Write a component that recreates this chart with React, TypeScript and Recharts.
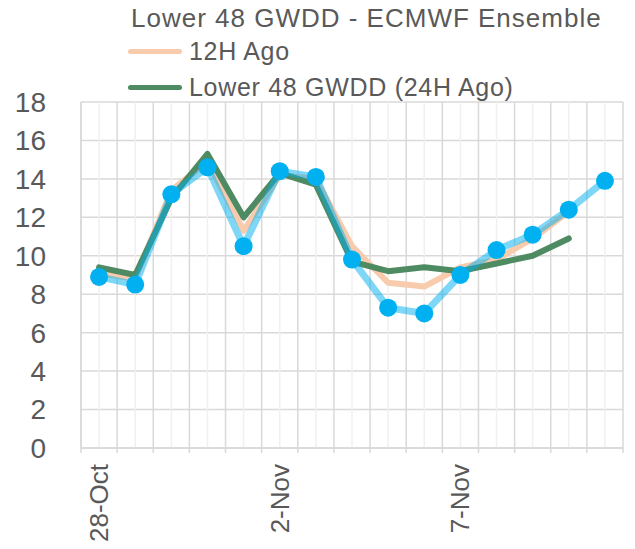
import React from 'react';
import { LineChart, Line, XAxis, YAxis, CartesianGrid, ReferenceLine, Legend } from 'recharts';

// Forecast dates (one per day)
const dates = [
  '28-Oct', '29-Oct', '30-Oct', '31-Oct', '1-Nov', '2-Nov', '3-Nov', '4-Nov',
  '5-Nov', '6-Nov', '7-Nov', '8-Nov', '9-Nov', '10-Nov', '11-Nov',
];
// Lower 48 GWDD - latest ECMWF ensemble run
const ensemble = [8.9, 8.5, 13.2, 14.6, 10.5, 14.4, 14.1, 9.8, 7.3, 7.0, 9.0, 10.3, 11.1, 12.4, 13.9];
// previous runs
const ago12H = [9.1, 8.8, 13.4, 14.9, 11.3, 14.2, 14.0, 10.5, 8.6, 8.4, 9.4, 9.8, 10.9, 12.3, null];
const ago24H = [9.4, 9.0, 13.0, 15.3, 12.0, 14.3, 13.7, 9.7, 9.2, 9.4, 9.2, 9.6, 10.0, 10.9, null];

const labelDates = ['28-Oct', '2-Nov', '7-Nov'];
const yTicks = [0, 2, 4, 6, 8, 10, 12, 14, 16, 18];

const data = dates.map((date, i) => ({
  i,
  date,
  ensemble: ensemble[i],
  ago12H: ago12H[i],
  ago24H: ago24H[i],
}));

const centers = dates.map((_, i) => i);
const bounds = [...dates.map((_, i) => i - 0.5), dates.length - 0.5];
const xTicks = [...bounds, ...centers].sort((a, b) => a - b);

const font = '"Liberation Sans", Arial, sans-serif';
const textColor = '#595959';
const gridDark = '#d9d9d9';
const gridLight = '#f0f0f0';

const XTick = (props: any) => {
  const { x, y, payload } = props;
  const v = payload.value;
  if (!Number.isInteger(v)) {
    return <line x1={x} x2={x} y1={y} y2={y + 5} stroke={gridDark} strokeWidth={1.5} />;
  }
  const label = dates[v];
  if (!labelDates.includes(label)) return <g />;
  const ty = y + 16;
  return (
    <text
      x={x}
      y={ty}
      transform={`rotate(-90 ${x} ${ty})`}
      textAnchor="end"
      dominantBaseline="central"
      fill={textColor}
      fontSize={26}
      fontFamily={font}
    >
      {label}
    </text>
  );
};

const renderLegend = (props: any) => {
  const items = (props.payload || []).filter((p: any) => p.type !== 'none');
  return (
    <div style={{ position: 'relative', width: 630, height: 100, fontFamily: font, color: textColor }}>
      <div style={{ position: 'absolute', left: 130, top: 4, fontSize: 26, lineHeight: 1, letterSpacing: 1, whiteSpace: 'nowrap' }}>
        Lower 48 GWDD - ECMWF Ensemble
      </div>
      {items.map((p: any, k: number) => (
        <div key={p.value} style={{ position: 'absolute', left: 127, top: 38 + k * 36, height: 26, whiteSpace: 'nowrap' }}>
          <span style={{ position: 'absolute', left: 0, top: 10, width: 54, height: 5, borderRadius: 3, background: p.color }} />
          <span style={{ position: 'absolute', left: 61, top: 0, fontSize: 25, lineHeight: 1, letterSpacing: 0.7 }}>{p.value}</span>
        </div>
      ))}
    </div>
  );
};

export default function App() {
  return (
    <div style={{ width: 635, height: 549, background: '#fff' }}>
      <style>{'body{margin:0}'}</style>
      <LineChart width={635} height={549} data={data} margin={{ top: 102, right: 12, bottom: 0, left: 0 }}>
        <CartesianGrid vertical={false} stroke={gridDark} strokeWidth={1.5} />
        {centers.map((c) => (
          <ReferenceLine key={'c' + c} x={c} stroke={gridLight} strokeWidth={1.5} />
        ))}
        {bounds.map((b) => (
          <ReferenceLine key={'b' + b} x={b} stroke={gridDark} strokeWidth={1.5} />
        ))}
        <XAxis
          dataKey="i"
          type="number"
          domain={[-0.5, dates.length - 0.5]}
          ticks={xTicks}
          interval={0}
          tick={<XTick />}
          tickLine={false}
          tickSize={0}
          tickMargin={0}
          height={101}
          axisLine={{ stroke: gridDark, strokeWidth: 1.5 }}
        />
        <YAxis
          domain={[0, 18]}
          ticks={yTicks}
          width={81}
          tickLine={false}
          tickSize={0}
          tickMargin={35}
          axisLine={{ stroke: gridDark, strokeWidth: 1.5 }}
          tick={{ fill: textColor, fontSize: 28, fontFamily: font }}
        />
        <Legend
          content={renderLegend}
          layout="horizontal"
          verticalAlign="middle"
          align="center"
          wrapperStyle={{ top: 1, left: 1, width: 630 }}
        />
        <Line
          name="12H Ago"
          dataKey="ago12H"
          stroke="#f8cbad"
          strokeWidth={6}
          strokeLinecap="round"
          strokeLinejoin="round"
          dot={false}
          activeDot={false}
          isAnimationActive={false}
        />
        <Line
          name="Lower 48 GWDD (24H Ago)"
          dataKey="ago24H"
          stroke="#4e8a62"
          strokeWidth={6}
          strokeLinecap="round"
          strokeLinejoin="round"
          dot={false}
          activeDot={false}
          isAnimationActive={false}
        />
        <Line
          name="Lower 48 GWDD - ECMWF Ensemble"
          dataKey="ensemble"
          legendType="none"
          stroke="#00b0f0"
          strokeOpacity={0.5}
          strokeWidth={7}
          strokeLinecap="round"
          strokeLinejoin="round"
          dot={{ r: 9, fill: '#00b0f0', stroke: 'none', fillOpacity: 1 }}
          activeDot={false}
          isAnimationActive={false}
        />
      </LineChart>
    </div>
  );
}
